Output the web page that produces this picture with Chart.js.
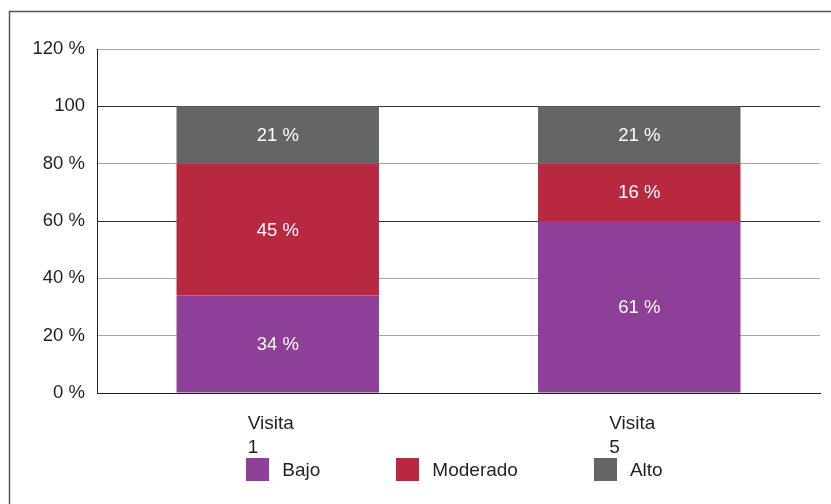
<!DOCTYPE html>
<html lang="es"><head><meta charset="utf-8"><title>Visita 1 · Visita 5</title>
<script src="https://cdn.jsdelivr.net/npm/chart.js@4/dist/chart.umd.min.js"></script>
<style>
  html, body { margin: 0; background: #fff; }
  canvas { display: block; }
</style></head>
<body>
<canvas id="c" width="831" height="504"></canvas>
<script>
// Categories and series. The printed labels don't always
// match the bar heights (Visita 5 prints 61/16/21 on a 60/20/20 bar), so the
// labels are kept as their own arrays.
const VISITS = [['Visita', '1'], ['Visita', '5']];
const BAJO     = [34, 60];
const MODERADO = [46, 20];
const ALTO     = [20, 20];
const BAJO_LBL     = ['34 %', '61 %'];
const MODERADO_LBL = ['45 %', '16 %'];
const ALTO_LBL     = ['21 %', '21 %'];
const Y_TICKS = { 0: '0 %', 20: '20 %', 40: '40 %', 60: '60 %', 80: '80 %', 100: '100', 120: '120 %' };

const PURPLE = '#8e3f97', RED = '#b82840', GRAY = '#646567';
const INK = '#231f20';
const FONT = '"Liberation Sans", Arial, sans-serif';

// Page frame: the reference is cropped from a boxed figure, only top and left edges show.
const frame = {
  id: 'frame',
  beforeDraw(chart) {
    const ctx = chart.ctx;
    ctx.save();
    ctx.strokeStyle = '#555';
    ctx.lineWidth = 1.5;
    ctx.beginPath();
    ctx.moveTo(9.5, chart.height);
    ctx.lineTo(9.5, 11.5);
    ctx.lineTo(chart.width, 11.5);
    ctx.stroke();
    ctx.restore();
  },
};

// White value labels centred in each segment.
const segLabels = {
  id: 'segLabels',
  afterDatasetsDraw(chart) {
    const ctx = chart.ctx;
    ctx.save();
    ctx.fillStyle = '#fff';
    ctx.font = `18.5px ${FONT}`;
    ctx.textAlign = 'center';
    ctx.textBaseline = 'middle';
    chart.data.datasets.forEach((ds, di) => {
      chart.getDatasetMeta(di).data.forEach((bar, i) => {
        ctx.fillText(ds.printed[i], bar.x, (bar.y + bar.base) / 2 + 1);
      });
    });
    ctx.restore();
  },
};

// Category labels (left-aligned two-line blocks under each bar) and the legend row.
const bottomText = {
  id: 'bottomText',
  afterDraw(chart) {
    const ctx = chart.ctx, area = chart.chartArea, x = chart.scales.x;
    ctx.save();
    ctx.fillStyle = INK;
    ctx.font = `19px ${FONT}`;
    ctx.textAlign = 'left';
    ctx.textBaseline = 'alphabetic';
    VISITS.forEach((lines, i) => {
      const px = x.getPixelForTick(i) - 30;
      lines.forEach((t, k) => ctx.fillText(t, px, area.bottom + 36 + k * 24));
    });

    // Legend sits a touch left of the plot's centre in the reference.
    const BOX = 23, GAP = 13, SPACE = 76;
    const items = chart.data.datasets.map(ds => ({ text: ds.label, color: ds.backgroundColor, w: ctx.measureText(ds.label).width }));
    const total = items.reduce((s, it) => s + BOX + GAP + it.w, 0) + SPACE * (items.length - 1);
    let cx = (area.left + area.right) / 2 - total / 2 - 4;
    const top = area.bottom + 65;
    for (const it of items) {
      ctx.fillStyle = it.color;
      ctx.fillRect(Math.round(cx), top, BOX, BOX);
      ctx.fillStyle = INK;
      ctx.fillText(it.text, cx + BOX + GAP, top + 18);
      cx += BOX + GAP + it.w + SPACE;
    }
    ctx.restore();
  },
};

new Chart(document.getElementById('c'), {
  type: 'bar',
  data: {
    labels: VISITS.map(v => v.join(' ')),
    datasets: [
      { label: 'Bajo',     data: BAJO,     printed: BAJO_LBL,     backgroundColor: PURPLE },
      { label: 'Moderado', data: MODERADO, printed: MODERADO_LBL, backgroundColor: RED },
      { label: 'Alto',     data: ALTO,     printed: ALTO_LBL,     backgroundColor: GRAY },
    ],
  },
  options: {
    responsive: false, animation: false, devicePixelRatio: 1,
    layout: { padding: { left: 10, right: 11, top: 49, bottom: 111 } },
    datasets: { bar: { categoryPercentage: 0.56, barPercentage: 1, borderWidth: 0 } },
    plugins: { legend: { display: false }, tooltip: { enabled: false } },
    scales: {
      x: {
        stacked: true,
        ticks: { display: false },
        grid: { display: false, drawTicks: false },
        border: { display: true, color: INK, width: 1 },
      },
      y: {
        stacked: true, min: 0, max: 120,
        afterFit: s => { s.width = 87; },
        ticks: {
          stepSize: 20, padding: 12, color: INK,
          font: { family: FONT, size: 18.5 },
          callback: v => Y_TICKS[v] ?? '',
        },
        grid: {
          drawTicks: false,
          color: c => (c.tick.value === 100 || c.tick.value === 60 || c.tick.value === 0) ? '#333' : '#a6a6a6',
        },
        border: { display: true, color: INK, width: 1 },
      },
    },
  },
  plugins: [frame, segLabels, bottomText],
});
</script>
</body></html>
